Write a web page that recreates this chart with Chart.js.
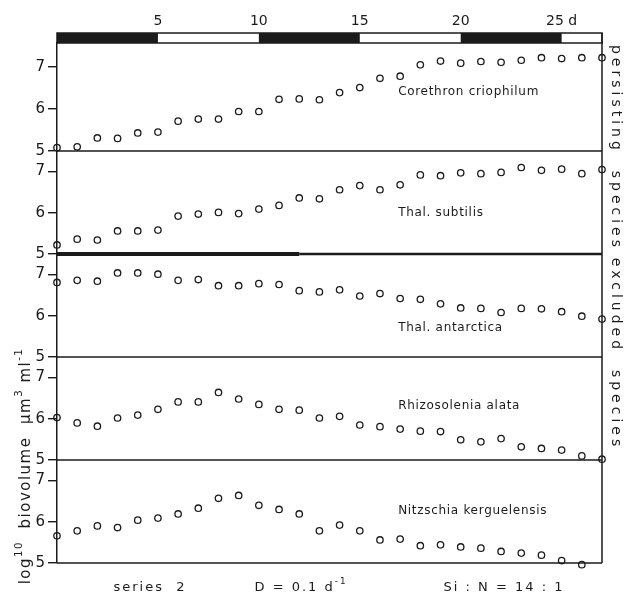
<!DOCTYPE html>
<html>
<head>
<meta charset="utf-8">
<script src="https://cdn.jsdelivr.net/npm/chart.js@4.4.0/dist/chart.umd.min.js"></script>
<style>
  html, body { margin: 0; padding: 0; background: #fff; }
  #wrap { position: relative; width: 628px; height: 606px; }
</style>
</head>
<body>
<div id="wrap"><canvas id="chart" width="628" height="606"></canvas></div>
<script>
// days of the experiment
var days = [0, 1, 2, 3, 4, 5, 6, 7, 8, 9, 10, 11, 12, 13, 14, 15, 16, 17, 18, 19, 20, 21, 22, 23, 24, 25, 26, 27];

// log10 biovolume per species
var corethron    = [5.08, 5.10, 5.31, 5.30, 5.43, 5.45, 5.71, 5.76, 5.76, 5.94, 5.94, 6.23, 6.24, 6.22, 6.39, 6.51, 6.73, 6.78, 7.05, 7.14, 7.09, 7.13, 7.11, 7.16, 7.22, 7.20, 7.22, 7.22];
var subtilis     = [5.22, 5.36, 5.34, 5.56, 5.56, 5.58, 5.92, 5.97, 6.01, 5.98, 6.09, 6.18, 6.36, 6.34, 6.56, 6.66, 6.56, 6.68, 6.92, 6.90, 6.97, 6.95, 6.98, 7.10, 7.03, 7.06, 6.95, 7.05];
var antarctica   = [6.81, 6.86, 6.84, 7.04, 7.04, 7.01, 6.86, 6.88, 6.73, 6.73, 6.78, 6.76, 6.61, 6.58, 6.63, 6.48, 6.54, 6.42, 6.40, 6.29, 6.19, 6.18, 6.08, 6.18, 6.17, 6.10, 5.99, 5.92];
var alata        = [6.03, 5.90, 5.82, 6.02, 6.09, 6.23, 6.41, 6.41, 6.64, 6.48, 6.35, 6.23, 6.21, 6.02, 6.06, 5.85, 5.81, 5.75, 5.70, 5.69, 5.49, 5.44, 5.52, 5.32, 5.28, 5.24, 5.10, 5.02];
var kerguelensis = [5.66, 5.78, 5.90, 5.86, 6.04, 6.09, 6.19, 6.33, 6.57, 6.64, 6.40, 6.30, 6.19, 5.78, 5.92, 5.78, 5.56, 5.58, 5.42, 5.44, 5.39, 5.36, 5.28, 5.24, 5.19, 5.06, 4.96, null];

var speciesNames = ['Corethron criophilum', 'Thal. subtilis', 'Thal. antarctica', 'Rhizosolenia alata', 'Nitzschia kerguelensis'];
var speciesSeries = [corethron, subtilis, antarctica, alata, kerguelensis];

// axes
var xTicks = [5, 10, 15, 20, 25];
var yTicks = [5, 5.5, 6, 6.5, 7];
// light / dark bar along the top (dark = black)
var barEdges = [0, 5, 10, 15, 20, 25, 27];
var barDark  = [true, false, true, false, true, false];

var INK = '#1b1b1b';
var FONT = '"DejaVu Sans", sans-serif';
var panelIds = ['y1', 'y2', 'y3', 'y4', 'y5'];

// where each species name sits (day, value)
var nameDay = 16.9;
var nameLevel = [6.41, 6.0, 5.71, 6.32, 6.27];

function drawRuns(ctx, runs, x, y, size) {
  var w = 0;
  runs.forEach(function(r) {
    ctx.font = (r[1] ? size * 0.68 : size) + 'px ' + FONT;
    w += ctx.measureText(r[0]).width;
  });
  var cx = x - w / 2;
  runs.forEach(function(r) {
    ctx.font = (r[1] ? size * 0.68 : size) + 'px ' + FONT;
    ctx.fillText(r[0], cx, r[1] ? y - size * 0.45 : y);
    cx += ctx.measureText(r[0]).width;
  });
}

var panelPlugin = {
  id: 'panels',
  beforeDatasetsDraw: function(chart) {
    var ctx = chart.ctx, a = chart.chartArea, xs = chart.scales.x;
    var barTop = a.top - 10;
    ctx.save();
    ctx.strokeStyle = INK;
    ctx.fillStyle = INK;
    ctx.lineWidth = 1.5;

    // light/dark bar
    for (var i = 0; i < barDark.length; i++) {
      var x0 = xs.getPixelForValue(barEdges[i]);
      var x1 = xs.getPixelForValue(barEdges[i + 1]);
      if (barDark[i]) ctx.fillRect(x0, barTop, x1 - x0, 10);
    }
    ctx.strokeRect(a.left, barTop, a.right - a.left, 10);

    // right border
    ctx.beginPath();
    ctx.moveTo(a.right, barTop);
    ctx.lineTo(a.right, a.bottom);
    ctx.stroke();

    // panel separators
    panelIds.forEach(function(id, k) {
      var s = chart.scales[id];
      ctx.beginPath();
      if (k === 1) {
        ctx.lineWidth = 4;
        ctx.moveTo(a.left, s.bottom);
        ctx.lineTo(xs.getPixelForValue(12), s.bottom);
        ctx.stroke();
        ctx.beginPath();
        ctx.lineWidth = 2.5;
        ctx.moveTo(xs.getPixelForValue(12), s.bottom);
        ctx.lineTo(a.right, s.bottom);
      } else {
        ctx.lineWidth = 1.5;
        ctx.moveTo(a.left, s.bottom);
        ctx.lineTo(a.right, s.bottom);
      }
      ctx.stroke();
    });

    // species names
    ctx.letterSpacing = '0.7px';
    ctx.font = '12px ' + FONT;
    ctx.textAlign = 'left';
    ctx.textBaseline = 'middle';
    speciesNames.forEach(function(n, k) {
      var s = chart.scales[panelIds[k]];
      ctx.fillText(n, xs.getPixelForValue(nameDay), s.getPixelForValue(nameLevel[k]));
    });

    // side labels
    ctx.letterSpacing = '4px';
    ctx.font = '14px ' + FONT;
    ctx.textAlign = 'center';
    ctx.save();
    ctx.translate(616, 148);
    ctx.rotate(Math.PI / 2);
    ctx.fillText('persisting  species', 0, 0);
    ctx.restore();
    ctx.save();
    ctx.translate(616, 354);
    ctx.rotate(Math.PI / 2);
    ctx.fillText('excluded  species', 0, 0);
    ctx.restore();

    // y title
    ctx.letterSpacing = '1.5px';
    ctx.textAlign = 'left';
    ctx.save();
    ctx.translate(26, 466);
    ctx.rotate(-Math.PI / 2);
    drawRuns(ctx, [['log', 0], ['10', 1], ['  biovolume  \u03bcm', 0], ['3', 1], [' ml', 0], ['-1', 1]], 0, 0, 15);
    ctx.restore();

    // footer
    ctx.letterSpacing = '2px';
    drawRuns(ctx, [['series  2', 0]], 150, 588, 13);
    drawRuns(ctx, [['D = 0.1 d', 0], ['-1', 1]], 301, 588, 13);
    drawRuns(ctx, [['Si : N = 14 : 1', 0]], 504, 588, 13);
    ctx.restore();
  }
};

function panelScale(order, weight, max) {
  return {
    type: 'linear',
    position: 'left',
    stack: 'panels',
    stackWeight: weight,
    weight: order,
    min: 5,
    max: max,
    afterBuildTicks: function(s) { s.ticks = yTicks.map(function(v) { return { value: v }; }); },
    afterFit: function(s) { s.width = 40; },
    ticks: {
      callback: function(v) { return Number.isInteger(v) ? String(v) : ''; },
      color: INK,
      padding: 3,
      font: { family: FONT, size: 15 }
    },
    grid: { drawOnChartArea: false, tickLength: 9, color: INK, lineWidth: 1.4 },
    border: { display: true, color: INK, width: 1.5 }
  };
}

var scales = {
  x: {
    type: 'linear',
    position: 'top',
    min: 0,
    max: 27,
    afterBuildTicks: function(s) { s.ticks = xTicks.map(function(v) { return { value: v }; }); },
    afterFit: function(s) { s.height = 43; },
    ticks: {
      callback: function(v) { return v === 25 ? '25 d' : String(v); },
      color: INK,
      padding: 13,
      maxRotation: 0,
      font: { family: FONT, size: 14 }
    },
    grid: { display: false, drawTicks: false },
    border: { display: false }
  }
};
scales.y1 = panelScale(5, 108, 7.57);
scales.y2 = panelScale(4, 103, 7.5);
scales.y3 = panelScale(3, 103, 7.5);
scales.y4 = panelScale(2, 103, 7.5);
scales.y5 = panelScale(1, 103, 7.5);

var datasets = speciesSeries.map(function(vals, k) {
  return {
    label: speciesNames[k],
    yAxisID: panelIds[k],
    data: days.map(function(d, i) { return { x: d, y: vals[i] }; }),
    showLine: false,
    clip: false,
    pointRadius: 3.2,
    pointBorderWidth: 1.3,
    pointBorderColor: INK,
    pointBackgroundColor: 'rgba(0,0,0,0)'
  };
});

new Chart(document.getElementById('chart'), {
  type: 'scatter',
  data: { datasets: datasets },
  options: {
    responsive: false,
    animation: false,
    layout: { padding: { left: 17, right: 26, top: 0, bottom: 43 } },
    plugins: { legend: { display: false }, tooltip: { enabled: false } },
    scales: scales
  },
  plugins: [panelPlugin]
});
</script>
</body>
</html>
